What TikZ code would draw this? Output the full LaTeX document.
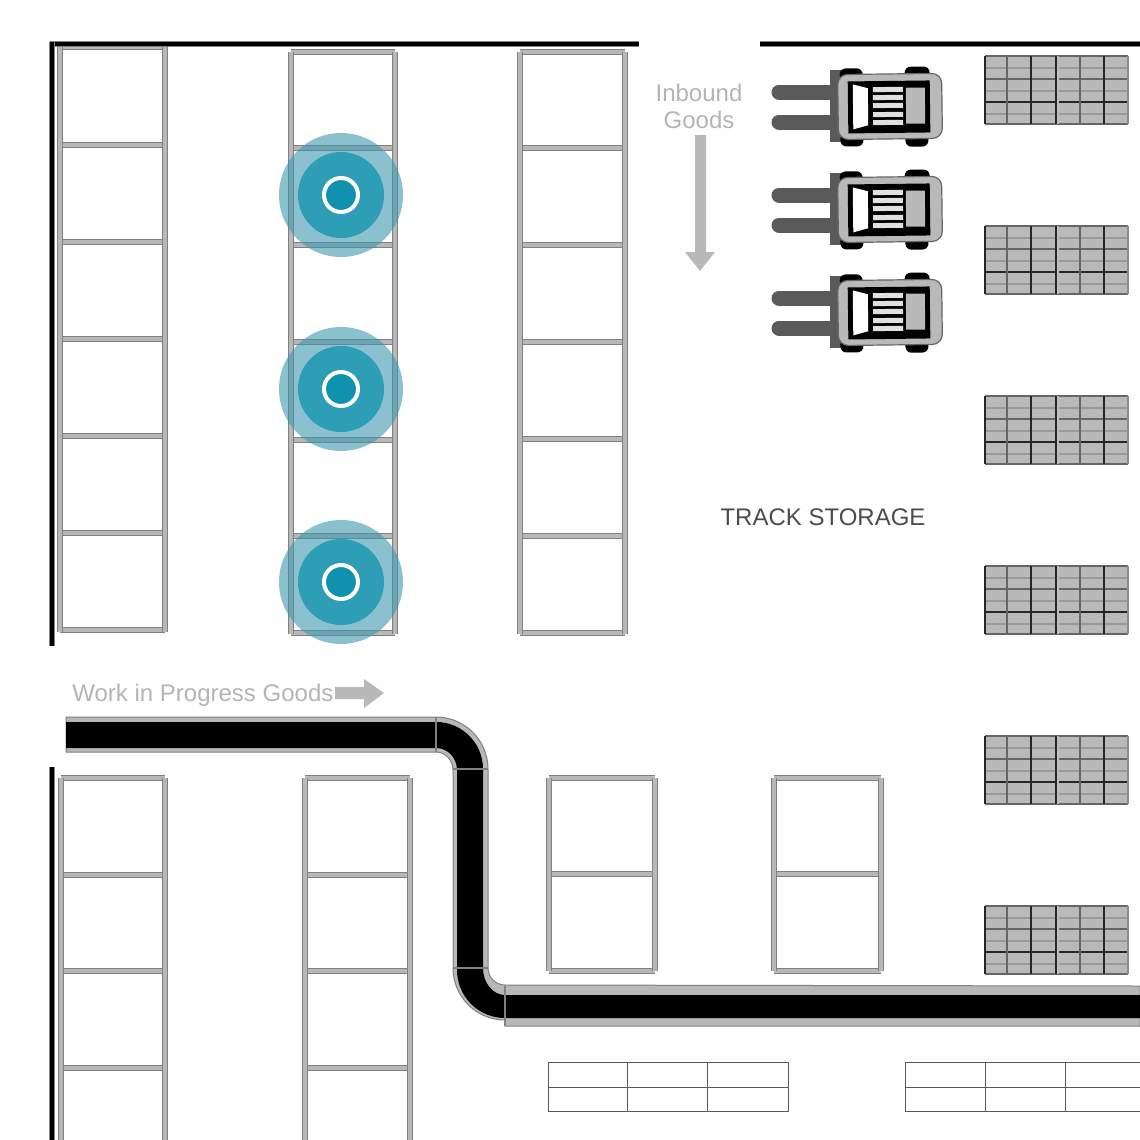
\documentclass[tikz,border=0pt]{standalone}
\usepackage{fontspec}
\setmainfont{Liberation Sans}
\definecolor{railedge}{HTML}{808080}
\definecolor{railfill}{HTML}{B8B8B8}
\definecolor{halo}{HTML}{3E97AE}
\definecolor{disc}{HTML}{2E9DB6}
\definecolor{spot}{HTML}{0E92AE}
\definecolor{labelgray}{HTML}{B4B4B4}
\definecolor{palletgray}{HTML}{B9B9B9}
\definecolor{forkgray}{HTML}{5A5A5A}
\tikzset{
  rail/.style={draw=railedge,double=railfill,line width=.65pt,double distance=1.9pt},
  wall/.style={draw=railedge,double=black,line width=.35pt,double distance=2.3pt},
  belt/.style={fill=black,draw=none},
  beltedge/.style={fill=railfill,draw=railedge,line width=.5pt},
  softlabel/.style={text=labelgray,font=\fontsize{12}{13.5}\selectfont,align=center},
  flowarrow/.style={fill=palletgray,draw=none},
  shelf/.style={draw=black!65,line width=.4pt}
}
% rack column: left, right, top, bottom, list of beams
\newcommand{\rackcol}[5]{
  \foreach \beamy in {#5} {\draw[rail] (#1,\beamy) -- (#2,\beamy);}
  \draw[rail] (#1,#3) -- (#1,#4);
  \draw[rail] (#2,#3) -- (#2,#4);
}
% pallet block at top edge y
\newcommand{\palletblock}[1]{
  \begin{scope}[yshift=-#1*.5pt]
    \fill[palletgray] (985,0) rectangle (1128,68);
    \foreach \rowy in {12,35,58} {\draw[black!40,line width=1.3pt] (985,\rowy) -- (1128,\rowy);}
    \foreach \rowy in {0,23,68} {\draw[black!60,line width=1pt] (985,\rowy) -- (1128,\rowy);}
    \draw[black!85,line width=1pt] (985,46) -- (1128,46);
    \foreach \coly in {1007,1080} {\draw[black!60,line width=1.1pt] (\coly,0) -- (\coly,68);}
    \foreach \coly in {985,1031,1104} {\draw[black!85,line width=1.1pt] (\coly,0) -- (\coly,68);}
    \draw[black!85,line width=.8pt] (1056,0) -- (1056,68);
    \draw[white!75!black,line width=.7pt] (1058,0) -- (1058,68);
    \draw[black!45,line width=.7pt] (1128,0) -- (1128,68);
  \end{scope}
}
% forklift, y offset
\newcommand{\forklift}[1]{
  \begin{scope}[yshift=-#1*.5pt]
    \draw[forkgray,line width=7.5pt,line cap=round] (779,92) -- (835,92);
    \draw[forkgray,line width=7.5pt,line cap=round] (779,122) -- (835,122);
    \fill[forkgray] (830,70) rectangle (842,142);
    \begin{scope}[rotate around={.7:(885,105)}]
    \fill[black,rounded corners=3pt] (840,68) rectangle (863,80);
    \fill[black,rounded corners=3pt] (905,67) rectangle (930,80);
    \fill[black,rounded corners=3pt] (840,132) rectangle (863,146);
    \fill[black,rounded corners=3pt] (905,132) rectangle (928,147);
    \draw[black!60,fill=palletgray,line width=.6pt,rounded corners=5pt] (838,74) rectangle (942,139);
    \fill[black] (848,81) rectangle (930,133);
    \fill[white] (853,84) -- (868,88) -- (868,125) -- (853,129) -- cycle;
    \foreach \slaty in {87,95,103,112,120} {\fill[black!12] (873,\slaty) rectangle (903,\slaty+5);}
    \fill[palletgray] (906,88) rectangle (925,124);
    \end{scope}
  \end{scope}
}
% teal marker
\newcommand{\marker}[2]{
  \fill[halo,opacity=.6] (341,#1) circle (62);
  \fill[disc,opacity=1] (341,#1) circle (43);
  \draw[white,fill=spot,line width=2pt] (341,#1) circle (17);
  \coordinate (#2) at (341,#1);
}
\begin{document}
\begin{tikzpicture}[x=.5pt,y=-.5pt]
\useasboundingbox (0,0) rectangle (1140,1140);
\clip (0,0) rectangle (1140,1140);
%upper racks
\rackcol{60}{165}{47}{632}{47,145,242,339,436,533,630}
\rackcol{291}{395}{52}{634}{52,148,245,342,440,536,633}
\rackcol{520}{625}{52}{634}{52,148,245,342,439,536,633}
%lower racks
\rackcol{61}{165}{778}{1145}{778,875,971,1068}
\rackcol{305}{410}{778}{1145}{778,875,971,1068}
\rackcol{549}{655}{778}{971}{778,874,971}
\rackcol{774}{881}{778}{971}{778,874,971}
%walls
\draw[wall] (50,44) -- (639,44);
\draw[wall] (760,44) -- (1140,44);
\draw[wall] (52,42) -- (52,646);
\draw[wall] (52,767) -- (52,1145);
%conveyor
\path[beltedge] (66,717) -- (436,717) arc (-90:0:52) -- (488,968) arc (180:90:17) -- (1140,986) -- (1140,1026) -- (505,1026) -- (505,1020) arc (90:180:52) -- (453,770) arc (0:-90:17 and 18) -- (66,752) -- cycle;
\path[belt] (66,722) -- (436,722) arc (-90:0:47) -- (483,968) arc (180:90:22 and 27) -- (1140,995) -- (1140,1018) -- (505,1018) arc (90:180:48) -- (457,770) arc (0:-90:21 and 22) -- (66,748) -- cycle;
\draw[railedge,line width=.6pt] (436,717) -- (436,752);
\draw[railedge,line width=.6pt] (453,769) -- (488,769);
\draw[railedge,line width=.6pt] (453,968) -- (488,968);
\draw[railedge,line width=.8pt] (505,986) -- (505,1026);
%markers
\marker{195}{markera}
\marker{389}{markerb}
\marker{582}{markerc}
%pallets
\foreach \blocky in {56,226,396,566,736,906} {\palletblock{\blocky}}
%forklifts
\foreach \lifty in {0,103,206} {\forklift{\lifty}}
%bottom shelves
\draw[shelf] (548,1062) rectangle (788,1111);
\draw[shelf] (548,1087) -- (788,1087);
\draw[shelf] (627,1062) -- (627,1111);
\draw[shelf] (707,1062) -- (707,1111);
\draw[shelf] (905,1062) -- (1145,1062);
\draw[shelf] (905,1111) -- (1145,1111);
\draw[shelf] (905,1062) -- (905,1111);
\draw[shelf] (905,1087) -- (1145,1087);
\draw[shelf] (985,1062) -- (985,1111);
\draw[shelf] (1065,1062) -- (1065,1111);
%flow arrows and labels
\fill[flowarrow] (695,135) -- (706,135) -- (706,252) -- (715,252) -- (700,271) -- (685,252) -- (695,252) -- cycle;
\fill[flowarrow] (335,687) -- (364,687) -- (364,679) -- (384,693) -- (364,708) -- (364,699) -- (335,699) -- cycle;
\node[softlabel] (inbound) at (699,106) {Inbound\\Goods};
\node[softlabel,anchor=west,inner sep=0pt] (wip) at (72,695) {Work in Progress Goods};
\node[text=black!70,font=\fontsize{12}{14}\selectfont,inner sep=0pt] (track) at (823,517) {TRACK STORAGE};
\end{tikzpicture}
\end{document}
